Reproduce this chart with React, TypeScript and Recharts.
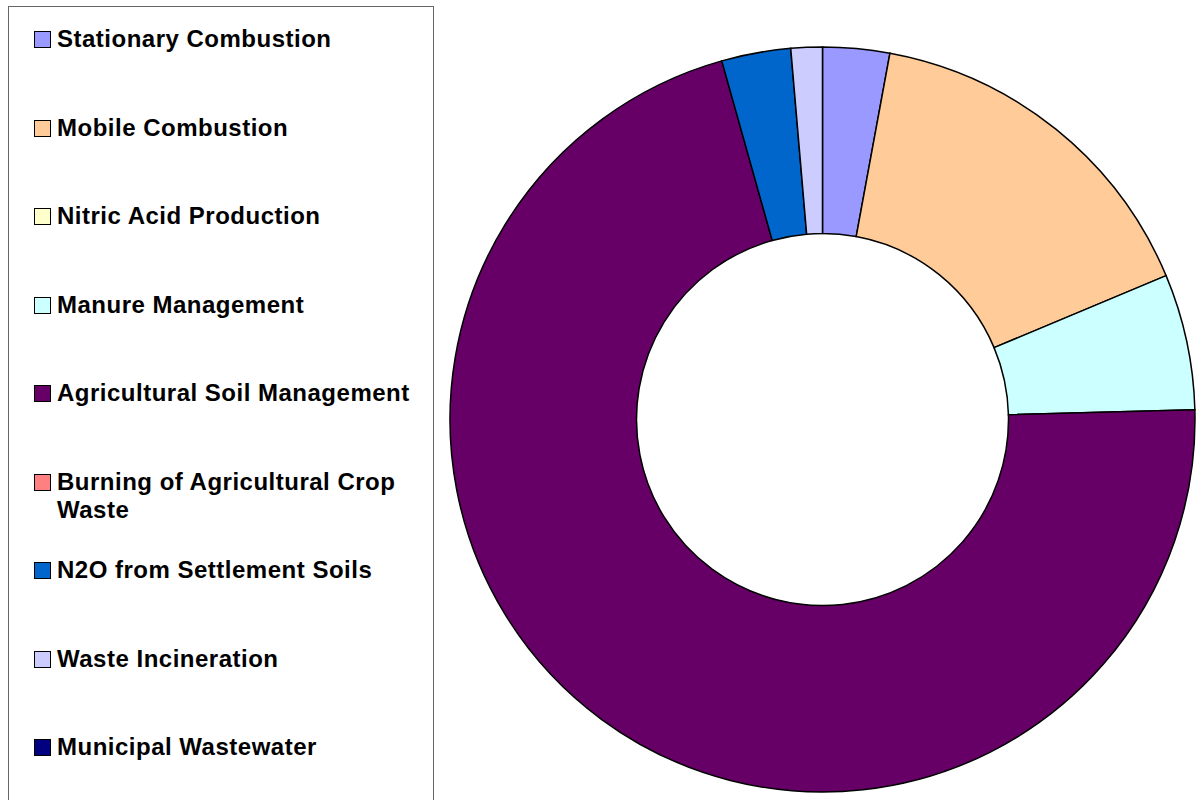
import { PieChart, Pie, Cell } from "recharts";

// N2O emission sources, share of total (%)
const categories = [
  "Stationary Combustion",
  "Mobile Combustion",
  "Nitric Acid Production",
  "Manure Management",
  "Agricultural Soil Management",
  "Burning of Agricultural Crop Waste",
  "N2O from Settlement Soils",
  "Waste Incineration",
  "Municipal Wastewater",
];

const shares = [2.9, 15.8, 0, 5.9, 71.1, 0, 3.0, 1.36, 0];

const colors = [
  "#9999FF",
  "#FFCC99",
  "#FFFFCC",
  "#CCFFFF",
  "#660066",
  "#FF8080",
  "#0066CC",
  "#CCCCFF",
  "#000080",
];

const data = categories.map((name, i) => ({ name, value: shares[i] }));

const FONT = '"Liberation Sans", Arial, sans-serif';

function LegendBox() {
  return (
    <div
      style={{
        position: "absolute",
        left: 8,
        top: 6,
        width: 426,
        height: 820,
        border: "1px solid #666",
        boxSizing: "border-box",
        paddingTop: 18,
        background: "#fff",
      }}
    >
      {categories.map((name, i) => (
        <div
          key={name}
          style={{
            height: 88.5,
            display: "flex",
            alignItems: "flex-start",
          }}
        >
          <span
            style={{
              width: 17,
              height: 17,
              marginLeft: 25,
              marginTop: 6,
              background: colors[i],
              border: "1px solid #000",
              boxSizing: "border-box",
              flexShrink: 0,
            }}
          />
          <span
            style={{
              marginLeft: 6,
              width: 365,
              fontFamily: FONT,
              fontWeight: "bold",
              fontSize: 24,
              letterSpacing: 0.5,
              lineHeight: "28px",
              color: "#000",
            }}
          >
            {name}
          </span>
        </div>
      ))}
    </div>
  );
}

export default function App() {
  return (
    <div
      style={{
        position: "absolute",
        left: 0,
        top: 0,
        width: 1199,
        height: 800,
        overflow: "hidden",
        background: "#fff",
      }}
    >
      <PieChart
        width={1199}
        height={800}
        margin={{ top: 0, right: 0, bottom: 0, left: 0 }}
      >
        <Pie
          data={data}
          dataKey="value"
          nameKey="name"
          cx={822.5}
          cy={419.5}
          innerRadius={186}
          outerRadius={372.5}
          startAngle={90}
          endAngle={-270}
          stroke="#000"
          strokeWidth={1.5}
          isAnimationActive={false}
        >
          {data.map((d, i) => (
            <Cell key={d.name} fill={colors[i]} />
          ))}
        </Pie>
      </PieChart>
      <LegendBox />
    </div>
  );
}
